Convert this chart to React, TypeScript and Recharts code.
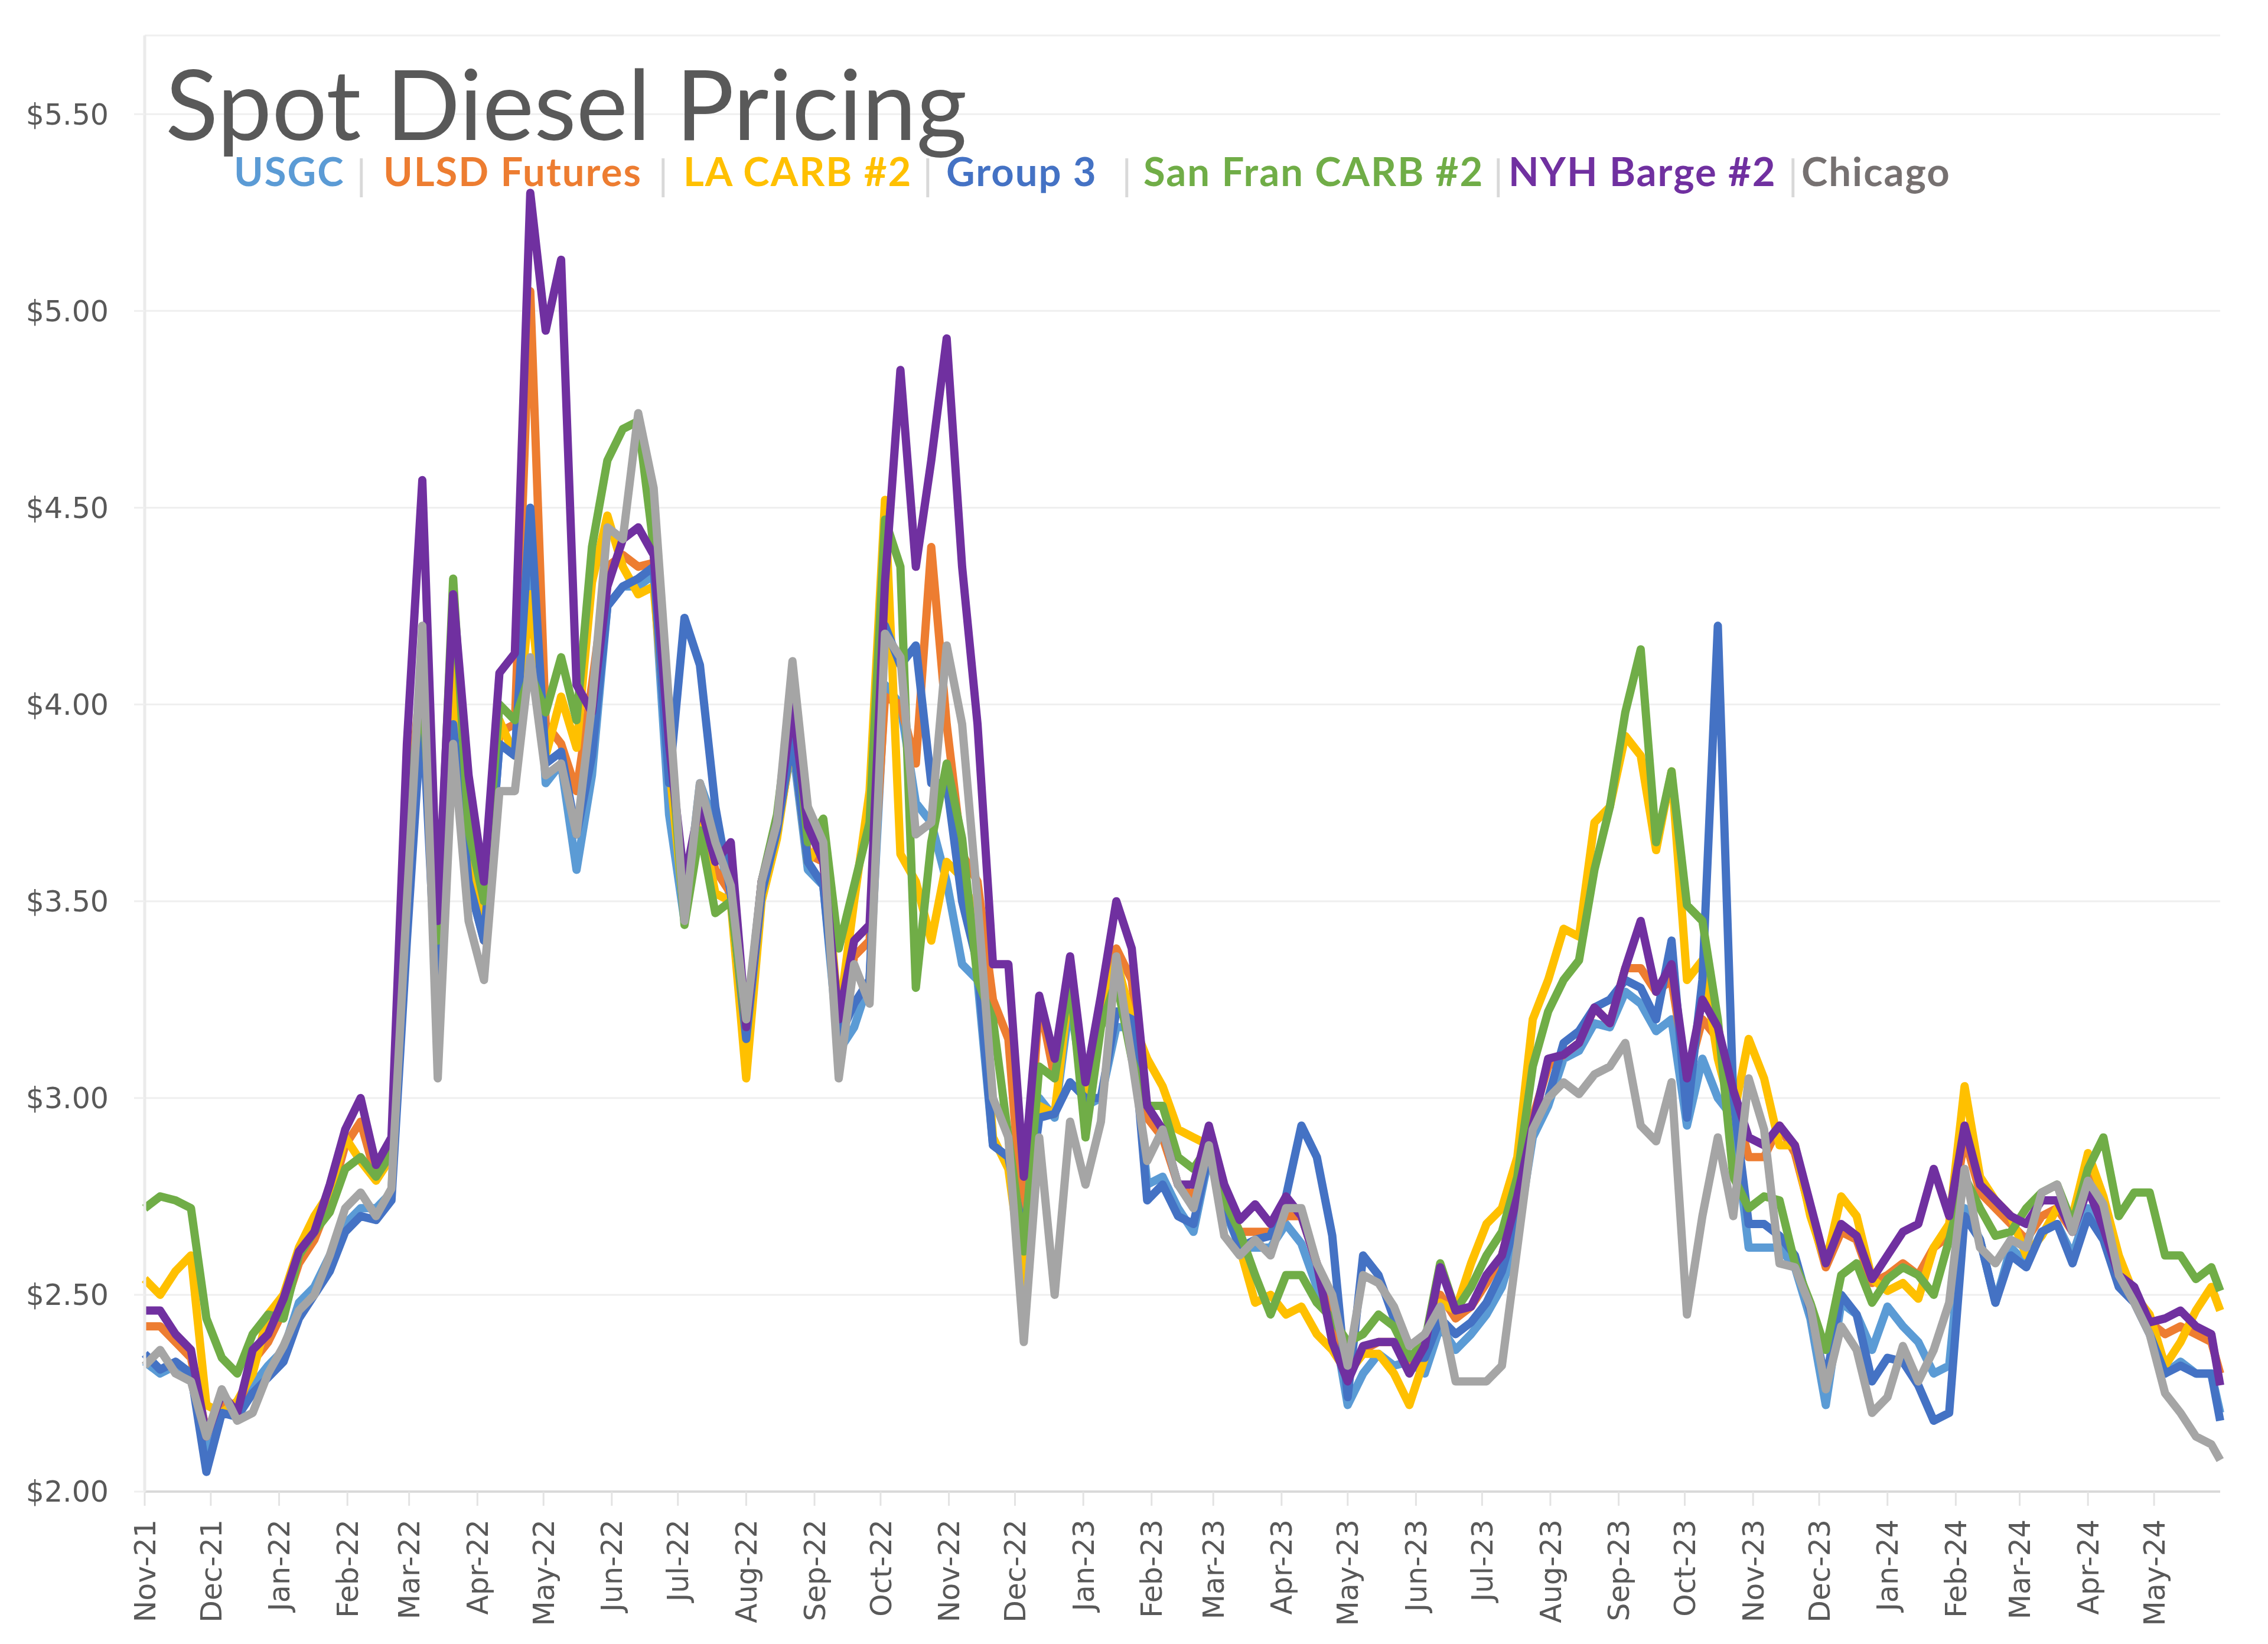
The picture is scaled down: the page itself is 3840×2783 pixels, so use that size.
import React from "react";
import { CartesianGrid, Line, LineChart, XAxis, YAxis } from "recharts";

const W = 3840;
const H = 2783;
const START = Date.UTC(2021, 10, 1);
const DAY = 86400000;
const LAST_DAY = 942; // 31 May 2024

// weekly observations (Mondays from 1 Nov 2021) plus the last print on 31 May 2024
const obsDays = [...Array.from({ length: 135 }, (_, i) => i * 7), LAST_DAY];

const monthLabels = [
  "Nov-21", "Dec-21", "Jan-22", "Feb-22", "Mar-22", "Apr-22", "May-22", "Jun-22", "Jul-22", "Aug-22", "Sep-22",
  "Oct-22", "Nov-22", "Dec-22", "Jan-23", "Feb-23", "Mar-23", "Apr-23", "May-23", "Jun-23", "Jul-23", "Aug-23",
  "Sep-23", "Oct-23", "Nov-23", "Dec-23", "Jan-24", "Feb-24", "Mar-24", "Apr-24", "May-24"
];

const yTicks = [2, 2.5, 3, 3.5, 4, 4.5, 5, 5.5];

const usgc = [
  2.33, 2.30, 2.32, 2.29, 2.10, 2.22, 2.20, 2.27, 2.32, 2.36, 2.48, 2.52, 2.60, 2.68, 2.72, 2.72, 2.76, 3.45,
  4.05, 3.25, 3.95, 3.55, 3.40, 3.90, 3.87, 4.45, 3.80, 3.85, 3.58, 3.82, 4.25, 4.30, 4.30, 4.33, 3.72,
  3.45, 3.80, 3.69, 3.50, 3.15, 3.52, 3.68, 3.90, 3.58, 3.54, 3.12, 3.18, 3.30, 4.05, 4.00, 3.75, 3.70,
  3.55, 3.34, 3.30, 2.88, 2.85, 2.62, 3.00, 2.95, 3.25, 2.98, 3.00, 3.18, 3.18, 2.78, 2.80, 2.72, 2.66, 2.85,
  2.72, 2.62, 2.62, 2.62, 2.68, 2.63, 2.52, 2.45, 2.22, 2.30, 2.35, 2.32, 2.33, 2.30, 2.42, 2.36, 2.40,
  2.45, 2.52, 2.65, 2.90, 2.98, 3.10, 3.12, 3.19, 3.18, 3.27, 3.24, 3.17, 3.20, 2.93, 3.10, 3.00, 2.95, 2.62,
  2.62, 2.62, 2.57, 2.44, 2.22, 2.48, 2.45, 2.36, 2.47, 2.42, 2.38, 2.30, 2.32, 2.72, 2.64, 2.48, 2.62,
  2.58, 2.66, 2.68, 2.60, 2.72, 2.65, 2.53, 2.49, 2.41, 2.30, 2.33, 2.30, 2.30, 2.20
];

const ulsd = [
  2.42, 2.42, 2.38, 2.34, 2.15, 2.22, 2.20, 2.33, 2.38, 2.46, 2.58, 2.64, 2.74, 2.88, 2.94, 2.80, 2.86, 3.70,
  4.10, 3.30, 4.05, 3.60, 3.40, 3.93, 3.95, 5.05, 3.95, 3.90, 3.78, 4.05, 4.35, 4.38, 4.35, 4.36, 3.85,
  3.48, 3.72, 3.58, 3.52, 3.15, 3.55, 3.68, 3.95, 3.62, 3.60, 3.15, 3.36, 3.40, 4.02, 4.00, 3.85, 4.40,
  3.95, 3.62, 3.55, 3.25, 3.15, 2.65, 3.25, 3.05, 3.35, 3.02, 3.25, 3.38, 3.30, 2.95, 2.90, 2.78, 2.75, 2.90,
  2.75, 2.66, 2.66, 2.66, 2.70, 2.70, 2.58, 2.42, 2.30, 2.36, 2.38, 2.38, 2.33, 2.37, 2.50, 2.44, 2.47,
  2.53, 2.60, 2.75, 2.95, 3.08, 3.11, 3.14, 3.23, 3.19, 3.33, 3.33, 3.27, 3.30, 3.05, 3.20, 3.15, 3.00, 2.85,
  2.85, 2.93, 2.86, 2.71, 2.57, 2.66, 2.64, 2.53, 2.55, 2.58, 2.55, 2.62, 2.65, 2.90, 2.76, 2.72, 2.68,
  2.64, 2.70, 2.72, 2.66, 2.80, 2.70, 2.56, 2.50, 2.43, 2.40, 2.42, 2.40, 2.38, 2.30
];

const laCarb = [
  2.54, 2.50, 2.56, 2.60, 2.22, 2.20, 2.23, 2.30, 2.45, 2.50, 2.62, 2.70, 2.76, 2.90, 2.84, 2.79, 2.85, 3.60,
  4.05, 3.35, 4.10, 3.60, 3.45, 3.96, 3.87, 4.28, 3.87, 4.02, 3.89, 4.31, 4.48, 4.35, 4.28, 4.30, 3.85,
  3.46, 3.72, 3.52, 3.50, 3.05, 3.50, 3.66, 3.92, 3.60, 3.66, 3.20, 3.50, 3.78, 4.52, 3.62, 3.55, 3.40,
  3.60, 3.56, 3.45, 2.90, 2.82, 2.53, 2.98, 2.96, 3.30, 3.00, 3.20, 3.35, 3.20, 3.10, 3.03, 2.92, 2.90, 2.88,
  2.74, 2.62, 2.48, 2.50, 2.45, 2.47, 2.40, 2.36, 2.30, 2.35, 2.35, 2.30, 2.22, 2.34, 2.48, 2.46, 2.58,
  2.68, 2.72, 2.85, 3.20, 3.30, 3.43, 3.41, 3.70, 3.74, 3.92, 3.87, 3.63, 3.83, 3.30, 3.35, 3.10, 2.95, 3.15,
  3.05, 2.88, 2.88, 2.70, 2.58, 2.75, 2.70, 2.54, 2.51, 2.53, 2.49, 2.62, 2.68, 3.03, 2.80, 2.74, 2.70,
  2.60, 2.65, 2.72, 2.70, 2.86, 2.75, 2.60, 2.50, 2.45, 2.32, 2.38, 2.46, 2.52, 2.46
];

const group3 = [
  2.35, 2.31, 2.33, 2.30, 2.05, 2.20, 2.19, 2.25, 2.29, 2.33, 2.44, 2.50, 2.56, 2.66, 2.70, 2.69, 2.74, 3.40,
  4.00, 3.20, 3.95, 3.55, 3.40, 3.90, 3.87, 4.50, 3.85, 3.88, 3.67, 3.87, 4.25, 4.30, 4.32, 4.35, 3.80,
  4.22, 4.10, 3.74, 3.52, 3.15, 3.52, 3.68, 3.92, 3.60, 3.54, 3.15, 3.24, 3.30, 4.20, 4.10, 4.15, 3.80,
  3.80, 3.50, 3.34, 2.88, 2.85, 2.65, 2.95, 2.96, 3.04, 3.00, 3.00, 3.22, 3.20, 2.74, 2.78, 2.70, 2.68, 2.86,
  2.73, 2.62, 2.64, 2.65, 2.75, 2.93, 2.85, 2.65, 2.24, 2.60, 2.55, 2.44, 2.34, 2.34, 2.44, 2.40, 2.43,
  2.48, 2.56, 2.70, 2.92, 3.00, 3.14, 3.17, 3.23, 3.25, 3.30, 3.28, 3.20, 3.40, 2.95, 3.30, 4.20, 3.00, 2.68,
  2.68, 2.65, 2.60, 2.46, 2.28, 2.50, 2.45, 2.28, 2.34, 2.33, 2.27, 2.18, 2.20, 2.70, 2.64, 2.48, 2.60,
  2.57, 2.66, 2.68, 2.58, 2.70, 2.64, 2.52, 2.48, 2.40, 2.30, 2.32, 2.30, 2.30, 2.18
];

const sanFran = [
  2.72, 2.75, 2.74, 2.72, 2.44, 2.34, 2.30, 2.40, 2.45, 2.44, 2.60, 2.66, 2.71, 2.82, 2.85, 2.80, 2.86, 3.70,
  4.05, 3.40, 4.32, 3.68, 3.50, 4.00, 3.96, 4.08, 3.98, 4.12, 3.96, 4.40, 4.62, 4.70, 4.72, 4.40, 3.95,
  3.44, 3.68, 3.47, 3.50, 3.18, 3.55, 3.72, 4.04, 3.65, 3.71, 3.38, 3.54, 3.70, 4.47, 4.35, 3.28, 3.65,
  3.85, 3.66, 3.30, 3.20, 2.90, 2.61, 3.08, 3.05, 3.30, 2.90, 3.18, 3.30, 3.10, 2.98, 2.98, 2.85, 2.82, 2.88,
  2.74, 2.66, 2.55, 2.45, 2.55, 2.55, 2.48, 2.44, 2.38, 2.40, 2.45, 2.42, 2.34, 2.38, 2.58, 2.46, 2.52,
  2.60, 2.66, 2.80, 3.08, 3.22, 3.30, 3.35, 3.58, 3.74, 3.98, 4.14, 3.65, 3.83, 3.49, 3.45, 3.20, 2.80, 2.72,
  2.75, 2.74, 2.58, 2.48, 2.36, 2.55, 2.58, 2.48, 2.54, 2.57, 2.55, 2.50, 2.64, 2.80, 2.72, 2.65, 2.66,
  2.72, 2.76, 2.78, 2.68, 2.82, 2.90, 2.70, 2.76, 2.76, 2.60, 2.60, 2.54, 2.57, 2.51
];

const nyhBarge = [
  2.46, 2.46, 2.40, 2.36, 2.14, 2.25, 2.20, 2.36, 2.40, 2.49, 2.61, 2.66, 2.78, 2.92, 3.00, 2.83, 2.90, 3.90,
  4.57, 3.45, 4.28, 3.82, 3.55, 4.08, 4.13, 5.30, 4.95, 5.13, 4.05, 3.98, 4.30, 4.42, 4.45, 4.38, 3.90,
  3.55, 3.75, 3.60, 3.65, 3.18, 3.55, 3.70, 4.00, 3.69, 3.60, 3.20, 3.40, 3.44, 4.31, 4.85, 4.35, 4.62,
  4.93, 4.35, 3.95, 3.34, 3.34, 2.80, 3.26, 3.10, 3.36, 3.04, 3.26, 3.50, 3.38, 2.98, 2.92, 2.78, 2.78, 2.93,
  2.78, 2.69, 2.73, 2.68, 2.75, 2.70, 2.58, 2.38, 2.28, 2.37, 2.38, 2.38, 2.30, 2.37, 2.57, 2.46, 2.47,
  2.55, 2.60, 2.75, 2.93, 3.10, 3.11, 3.14, 3.23, 3.19, 3.33, 3.45, 3.27, 3.34, 3.05, 3.25, 3.18, 3.02, 2.90,
  2.88, 2.93, 2.88, 2.73, 2.58, 2.68, 2.65, 2.54, 2.60, 2.66, 2.68, 2.82, 2.70, 2.93, 2.78, 2.74, 2.70,
  2.68, 2.74, 2.74, 2.66, 2.77, 2.67, 2.55, 2.52, 2.43, 2.44, 2.46, 2.42, 2.40, 2.27
];

const chicago = [
  2.32, 2.36, 2.30, 2.28, 2.14, 2.26, 2.18, 2.20, 2.30, 2.37, 2.46, 2.50, 2.60, 2.72, 2.76, 2.70, 2.77, 3.50,
  4.20, 3.05, 3.90, 3.45, 3.30, 3.78, 3.78, 4.12, 3.82, 3.85, 3.67, 4.00, 4.45, 4.42, 4.74, 4.55, 4.00,
  3.45, 3.80, 3.65, 3.54, 3.20, 3.55, 3.70, 4.11, 3.74, 3.65, 3.05, 3.34, 3.24, 4.18, 4.12, 3.67, 3.70,
  4.15, 3.95, 3.50, 3.00, 2.90, 2.38, 2.90, 2.50, 2.94, 2.78, 2.94, 3.36, 3.10, 2.84, 2.92, 2.78, 2.72, 2.88,
  2.65, 2.60, 2.64, 2.60, 2.72, 2.72, 2.58, 2.50, 2.32, 2.55, 2.53, 2.47, 2.37, 2.40, 2.47, 2.28, 2.28,
  2.28, 2.32, 2.62, 2.92, 3.00, 3.04, 3.01, 3.06, 3.08, 3.14, 2.93, 2.89, 3.04, 2.45, 2.70, 2.90, 2.70, 3.05,
  2.92, 2.58, 2.57, 2.47, 2.26, 2.42, 2.36, 2.20, 2.24, 2.37, 2.28, 2.36, 2.48, 2.82, 2.62, 2.58, 2.64,
  2.62, 2.76, 2.78, 2.66, 2.79, 2.73, 2.55, 2.48, 2.40, 2.25, 2.20, 2.14, 2.12, 2.08
];

const series = [
  { key: "usgc", name: "USGC", color: "#5B9BD5", values: usgc },
  { key: "ulsd", name: "ULSD Futures", color: "#ED7D31", values: ulsd },
  { key: "laCarb", name: "LA CARB #2", color: "#FFC000", values: laCarb },
  { key: "group3", name: "Group 3", color: "#4472C4", values: group3 },
  { key: "sanFran", name: "San Fran CARB #2", color: "#70AD47", values: sanFran },
  { key: "nyhBarge", name: "NYH Barge #2", color: "#7030A0", values: nyhBarge },
  { key: "chicago", name: "Chicago", color: "#A5A5A5", values: chicago }
];

// legend text positions (left edge of each label) and separators
const legendItems = [
  { name: "USGC", color: "#5B9BD5", x: 396 },
  { name: "ULSD Futures", color: "#ED7D31", x: 649 },
  { name: "LA CARB #2", color: "#FFC000", x: 1157 },
  { name: "Group 3", color: "#4472C4", x: 1602 },
  { name: "San Fran CARB #2", color: "#70AD47", x: 1936 },
  { name: "NYH Barge #2", color: "#7030A0", x: 2554 },
  { name: "Chicago", color: "#767171", x: 3050 }
];
const legendSeparators = [603, 1114, 1562, 1899, 2528, 3027];

const MONTHS = ["Jan", "Feb", "Mar", "Apr", "May", "Jun", "Jul", "Aug", "Sep", "Oct", "Nov", "Dec"];
function labelToDay(label: string) {
  const [mon, yy] = label.split("-");
  return Math.round((Date.UTC(2000 + Number(yy), MONTHS.indexOf(mon), 1) - START) / DAY);
}
const monthTicks = monthLabels.map(labelToDay);
const labelByDay = new Map(monthTicks.map((d, i) => [d, monthLabels[i]]));

const rows = obsDays.map((day, i) => {
  const row: Record<string, number> = { day };
  series.forEach((s) => {
    row[s.key] = s.values[i];
  });
  return row;
});

function MonthTick(props: any) {
  const { x, y, payload } = props;
  return (
    <text
      x={x}
      y={y}
      dy="0.36em"
      transform={`rotate(-90 ${x} ${y})`}
      textAnchor="end"
      fill="#595959"
      fontSize={49}
      fontFamily="DejaVu Sans"
    >
      {labelByDay.get(payload.value)}
    </text>
  );
}

export default function App() {
  return (
    <div style={{ position: "absolute", left: 0, top: 0, width: W, height: H, background: "#fff", overflow: "hidden" }}>
      <LineChart width={W} height={H} data={rows} margin={{ top: 60, right: 81, bottom: 0, left: 0 }}>
        <CartesianGrid vertical={false} stroke="#EFEFEF" strokeWidth={3} />
        <XAxis
          type="number"
          dataKey="day"
          domain={[0, LAST_DAY]}
          ticks={monthTicks}
          interval={0}
          height={258}
          tick={<MonthTick />}
          tickSize={24}
          tickMargin={23}
          tickLine={{ stroke: "#E3E3E3", strokeWidth: 3 }}
          axisLine={{ stroke: "#D9D9D9", strokeWidth: 4 }}
        />
        <YAxis
          domain={[2, 5.7]}
          ticks={yTicks}
          width={245}
          interval={0}
          tickFormatter={(v: number) => `$${v.toFixed(2)}`}
          tick={{ fill: "#595959", fontSize: 49, fontFamily: "DejaVu Sans" }}
          tickSize={18}
          tickMargin={43}
          tickLine={{ stroke: "#EFEFEF", strokeWidth: 3 }}
          axisLine={{ stroke: "#EBEBEB", strokeWidth: 5 }}
        />
        {series.map((s) => (
          <Line
            key={s.key}
            name={s.name}
            type="linear"
            dataKey={s.key}
            stroke={s.color}
            strokeWidth={14}
            strokeLinejoin="round"
            dot={false}
            isAnimationActive={false}
          />
        ))}
      </LineChart>
      <svg width={W} height={H} style={{ position: "absolute", left: 0, top: 0, pointerEvents: "none" }}>
        <text x={280} y={237} fill="#595959" fontSize={165} fontFamily="Lato">
          Spot Diesel Pricing
        </text>
        {legendItems.map((item) => (
          <text
            key={item.name}
            x={item.x}
            y={315}
            fill={item.color}
            fontSize={67}
            fontWeight={700}
            fontFamily="Lato"
            letterSpacing={2}
          >
            {item.name}
          </text>
        ))}
        {legendSeparators.map((x) => (
          <text key={x} x={x} y={322} fill="#D9D9D9" fontSize={70} fontFamily="Lato">
            |
          </text>
        ))}
      </svg>
    </div>
  );
}
